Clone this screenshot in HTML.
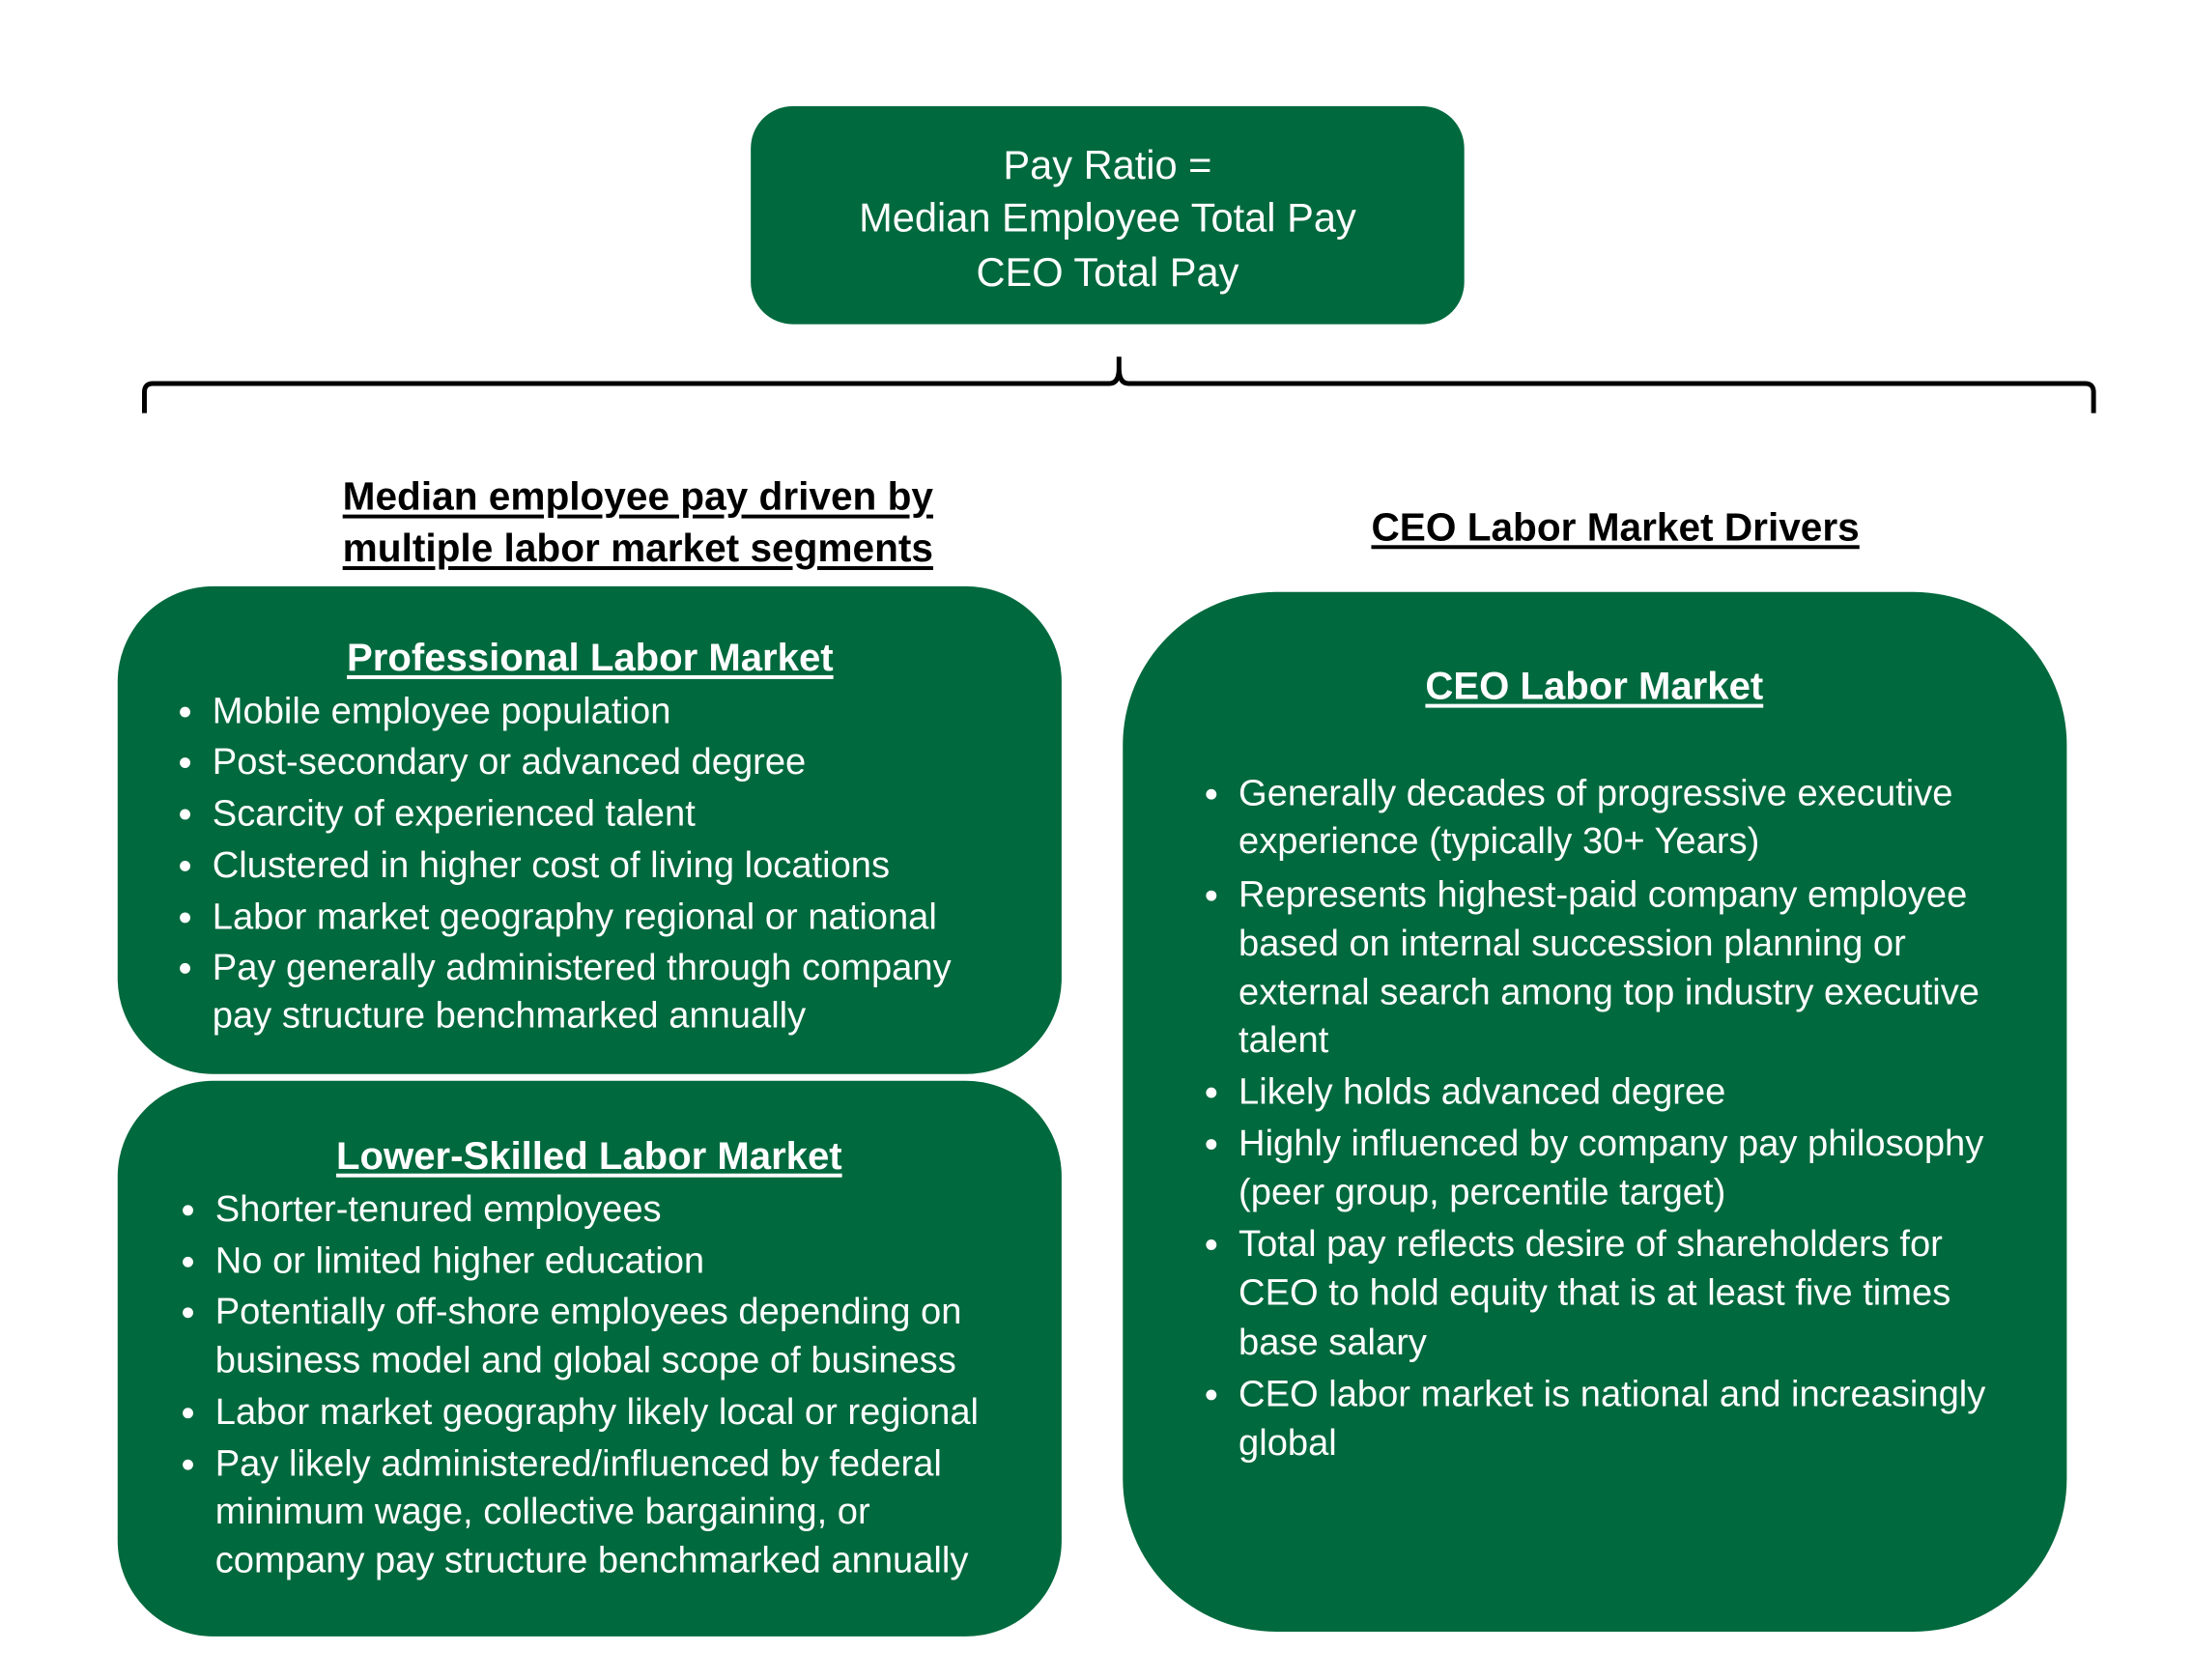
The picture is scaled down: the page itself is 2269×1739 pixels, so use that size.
<!DOCTYPE html>
<html><head><meta charset="utf-8"><style>
body{margin:0;width:2269px;height:1739px;background:#fff;position:relative;overflow:hidden;font-family:"Liberation Sans",sans-serif;}
#w{position:absolute;left:0;top:0;width:2269px;height:1739px;transform:scale(0.99);transform-origin:0 0;}
.box{position:absolute;background:#00693d;}
.t{position:absolute;white-space:nowrap;line-height:50px;height:50px;color:#fff;font-size:38.5px;}
.c{transform:translateX(-50%);}
.h{font-weight:bold;text-decoration:underline;text-underline-offset:5px;}
.k{color:#000;}
.b{position:absolute;width:11px;height:11px;border-radius:50%;background:#fff;}
</style></head><body><div id="w">
<div class="box" style="left:785px;top:111px;width:746px;height:228px;border-radius:44px"></div>
<div class="t c" style="left:1158px;top:148px;font-size:42px">Pay Ratio =</div>
<div class="t c" style="left:1158px;top:203px;font-size:42px">Median Employee Total Pay</div>
<div class="t c" style="left:1158px;top:260px;font-size:42px">CEO Total Pay</div>

<svg style="position:absolute;left:0;top:0" width="2269" height="1739">
<path d="M151 432 V410 Q151 401 160 401 H1160 Q1170 401 1170 385 V373 M1170 385 Q1170 401 1180 401 H2180 Q2189 401 2189 410 V432" fill="none" stroke="#000" stroke-width="5"/>
</svg>

<div class="t c k h" style="left:667px;top:494px;font-size:41px">Median employee pay driven by</div>
<div class="t c k h" style="left:667px;top:548px;font-size:41px">multiple labor market segments</div>
<div class="t c k h" style="left:1689px;top:526px;font-size:41px">CEO Labor Market Drivers</div>

<div class="box" style="left:123px;top:613px;width:987px;height:510px;border-radius:100px"></div>
<div class="box" style="left:123px;top:1130px;width:987px;height:581px;border-radius:100px"></div>
<div class="box" style="left:1174px;top:619px;width:987px;height:1087px;border-radius:160px"></div>

<div class="t c h" style="left:617px;top:662px;font-size:40.5px">Professional Labor Market</div>
<div class="b" style="left:188px;top:739px"></div><div class="t" style="left:222px;top:719px">Mobile employee population</div>
<div class="b" style="left:188px;top:792px"></div><div class="t" style="left:222px;top:772px">Post-secondary or advanced degree</div>
<div class="b" style="left:188px;top:846px"></div><div class="t" style="left:222px;top:826px">Scarcity of experienced talent</div>
<div class="b" style="left:188px;top:900px"></div><div class="t" style="left:222px;top:880px">Clustered in higher cost of living locations</div>
<div class="b" style="left:188px;top:954px"></div><div class="t" style="left:222px;top:934px">Labor market geography regional or national</div>
<div class="b" style="left:188px;top:1007px"></div><div class="t" style="left:222px;top:987px">Pay generally administered through company</div>
<div class="t" style="left:222px;top:1037px">pay structure benchmarked annually</div>

<div class="t c h" style="left:616px;top:1183px;font-size:40.5px">Lower-Skilled Labor Market</div>
<div class="b" style="left:191px;top:1260px"></div><div class="t" style="left:225px;top:1240px">Shorter-tenured employees</div>
<div class="b" style="left:191px;top:1314px"></div><div class="t" style="left:225px;top:1294px">No or limited higher education</div>
<div class="b" style="left:191px;top:1367px"></div><div class="t" style="left:225px;top:1347px">Potentially off-shore employees depending on</div>
<div class="t" style="left:225px;top:1398px">business model and global scope of business</div>
<div class="b" style="left:191px;top:1472px"></div><div class="t" style="left:225px;top:1452px">Labor market geography likely local or regional</div>
<div class="b" style="left:191px;top:1526px"></div><div class="t" style="left:225px;top:1506px">Pay likely administered/influenced by federal</div>
<div class="t" style="left:225px;top:1556px">minimum wage, collective bargaining, or</div>
<div class="t" style="left:225px;top:1607px">company pay structure benchmarked annually</div>

<div class="t c h" style="left:1667px;top:692px;font-size:40.5px">CEO Labor Market</div>
<div class="b" style="left:1261px;top:825px"></div><div class="t" style="left:1295px;top:805px">Generally decades of progressive executive</div>
<div class="t" style="left:1295px;top:855px">experience (typically 30+ Years)</div>
<div class="b" style="left:1261px;top:931px"></div><div class="t" style="left:1295px;top:911px">Represents highest-paid company employee</div>
<div class="t" style="left:1295px;top:962px">based on internal succession planning or</div>
<div class="t" style="left:1295px;top:1013px">external search among top industry executive</div>
<div class="t" style="left:1295px;top:1063px">talent</div>
<div class="b" style="left:1261px;top:1137px"></div><div class="t" style="left:1295px;top:1117px">Likely holds advanced degree</div>
<div class="b" style="left:1261px;top:1191px"></div><div class="t" style="left:1295px;top:1171px">Highly influenced by company pay philosophy</div>
<div class="t" style="left:1295px;top:1222px">(peer group, percentile target)</div>
<div class="b" style="left:1261px;top:1296px"></div><div class="t" style="left:1295px;top:1276px">Total pay reflects desire of shareholders for</div>
<div class="t" style="left:1295px;top:1327px">CEO to hold equity that is at least five times</div>
<div class="t" style="left:1295px;top:1379px">base salary</div>
<div class="b" style="left:1261px;top:1453px"></div><div class="t" style="left:1295px;top:1433px">CEO labor market is national and increasingly</div>
<div class="t" style="left:1295px;top:1484px">global</div>
</div></body></html>
